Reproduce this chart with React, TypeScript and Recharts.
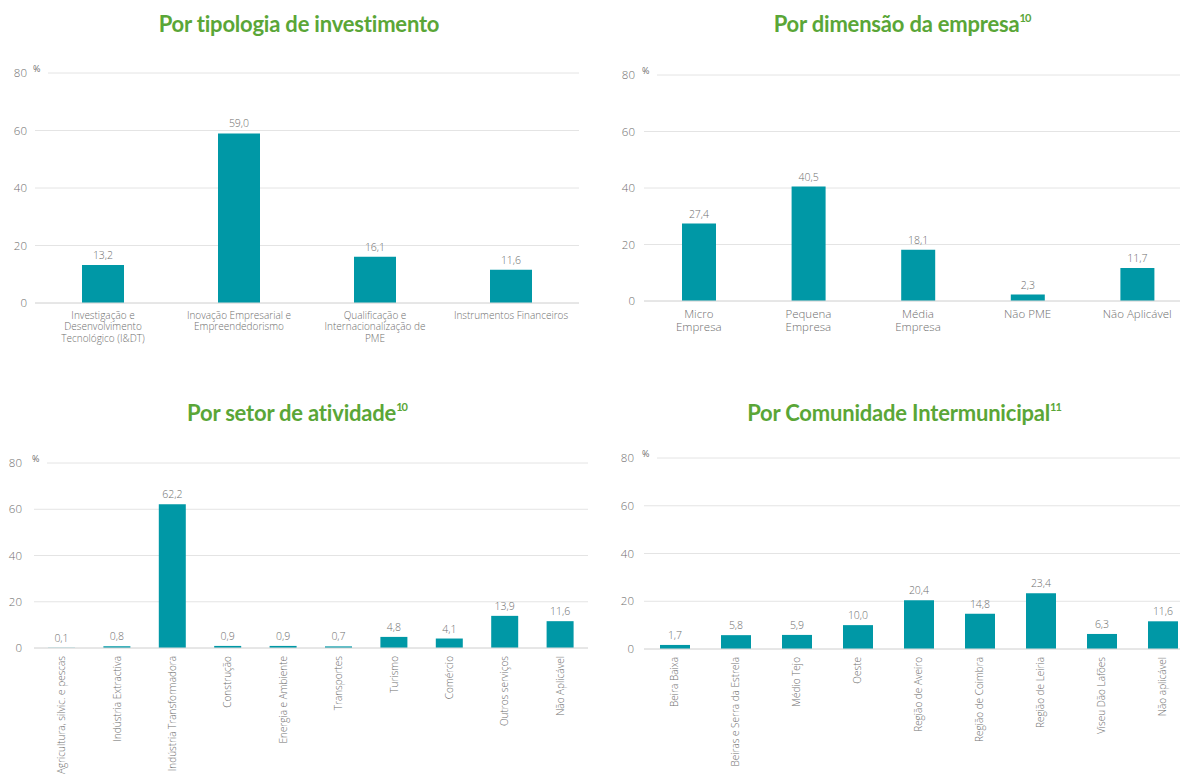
import React from "react";
import { Bar, BarChart, CartesianGrid, LabelList, XAxis, YAxis } from "recharts";

const yTicks = [0, 20, 40, 60, 80];

const tipologiaCats = [
  "Investigação e\nDesenvolvimento\nTecnológico (I&DT)",
  "Inovação Empresarial e\nEmpreendedorismo",
  "Qualificação e\nInternacionalização de\nPME",
  "Instrumentos Financeiros",
];
const tipologiaValues = [13.2, 59.0, 16.1, 11.6];

const dimensaoCats = ["Micro\nEmpresa", "Pequena\nEmpresa", "Média\nEmpresa", "Não PME", "Não Aplicável"];
const dimensaoValues = [27.4, 40.5, 18.1, 2.3, 11.7];

const setorCats = [
  "Agricultura, silvic. e pescas",
  "Indústria Extractiva",
  "Indústria Transformadora",
  "Construção",
  "Energia e Ambiente",
  "Transportes",
  "Turismo",
  "Comércio",
  "Outros serviços",
  "Não Aplicável",
];
const setorValues = [0.1, 0.8, 62.2, 0.9, 0.9, 0.7, 4.8, 4.1, 13.9, 11.6];

const cimCats = [
  "Beira Baixa",
  "Beiras e Serra da Estrela",
  "Médio Tejo",
  "Oeste",
  "Região de Aveiro",
  "Região de Coimbra",
  "Região de Leiria",
  "Viseu Dão Lafões",
  "Não aplicável",
];
const cimValues = [1.7, 5.8, 5.9, 10.0, 20.4, 14.8, 23.4, 6.3, 11.6];

const BAR = "#0098a6";
const GREY = "#6f6f6f";
const GREEN = "#5aa637";
const FONT = "'Open Sans', sans-serif";

const fmt = (v: any) => Number(v).toFixed(1).replace(".", ",");

function WrapTick(props: any) {
  const { x, y, payload, fontSize, lineH } = props;
  const lines = String(payload.value).split("\n");
  return (
    <g>
      {lines.map((l, i) => (
        <text
          key={i}
          x={x}
          y={y + fontSize * 0.75 + i * lineH}
          textAnchor="middle"
          fill={GREY}
          fontSize={fontSize}
          fontFamily={FONT}
          fontWeight={300}
        >
          {l}
        </text>
      ))}
    </g>
  );
}

function RotTick(props: any) {
  const { x, y, payload } = props;
  return (
    <text
      x={x}
      y={y}
      dy="0.35em"
      transform={`rotate(-90, ${x}, ${y})`}
      textAnchor="end"
      fill={GREY}
      fontSize={10}
      fontFamily={FONT}
      fontWeight={300}
    >
      {payload.value}
    </text>
  );
}

function ValueLabel(props: any) {
  const { x, y, width, value } = props;
  return (
    <text
      x={x + width / 2}
      y={y - 6}
      textAnchor="middle"
      fill={GREY}
      fontSize={10.5}
      fontFamily={FONT}
      fontWeight={300}
    >
      {fmt(value)}
    </text>
  );
}

interface PanelProps {
  left: number;
  top: number;
  width: number;
  plotTop: number;
  plotHeight: number;
  xHeight: number;
  yWidth: number;
  tickMargin: number;
  marginRight: number;
  cats: string[];
  values: number[];
  barSize: number;
  rotated?: boolean;
  xFont?: number;
  lineH?: number;
}

function Panel(p: PanelProps) {
  const data = p.cats.map((c, i) => ({ name: c, value: p.values[i] }));
  const height = p.plotTop + p.plotHeight + p.xHeight;
  const plotLeft = p.left + p.yWidth;
  return (
    <>
      <div style={{ position: "absolute", left: p.left, top: p.top }}>
        <BarChart
          width={p.width}
          height={height}
          data={data}
          margin={{ top: p.plotTop, right: p.marginRight, bottom: 0, left: 0 }}
        >
          <CartesianGrid vertical={false} stroke="#e4e4e4" />
          <XAxis
            dataKey="name"
            interval={0}
            height={p.xHeight}
            tickLine={false}
            axisLine={{ stroke: "#dcdcdc" }}
            tick={p.rotated ? <RotTick /> : <WrapTick fontSize={p.xFont} lineH={p.lineH} />}
          />
          <YAxis
            domain={[0, 80]}
            ticks={yTicks}
            width={p.yWidth}
            axisLine={false}
            tickLine={false}
            tickMargin={p.tickMargin}
            tick={{ fill: GREY, fontSize: 11.5, fontFamily: FONT, fontWeight: 300 }}
          />
          <Bar dataKey="value" fill={BAR} barSize={p.barSize} isAnimationActive={false}>
            <LabelList dataKey="value" content={<ValueLabel />} />
          </Bar>
        </BarChart>
      </div>
      <div
        style={{
          position: "absolute",
          left: plotLeft - 4,
          top: p.top + p.plotTop - 9,
          width: 15,
          height: 12,
          background: "#fff",
          color: GREY,
          fontSize: 9,
          fontFamily: FONT,
          lineHeight: "9px",
          paddingLeft: 2,
        }}
      >
        %
      </div>
    </>
  );
}

function Title({ text, sup, cx, top }: { text: string; sup?: string; cx: number; top: number }) {
  return (
    <div
      style={{
        position: "absolute",
        left: cx - 300,
        width: 600,
        top,
        textAlign: "center",
        color: GREEN,
        fontFamily: "Lato, sans-serif",
        fontWeight: 700,
        fontSize: 22,
        lineHeight: "24px",
        letterSpacing: -0.2,
      }}
    >
      {text}
      {sup && <sup style={{ fontSize: 11, verticalAlign: "top", lineHeight: "12px", letterSpacing: -1 }}>{sup}</sup>}
    </div>
  );
}

export default function App() {
  return (
    <div
      style={{
        position: "absolute",
        left: 0,
        top: 0,
        width: 1180,
        height: 774,
        overflow: "hidden",
        background: "#fff",
      }}
    >
      <Title text="Por tipologia de investimento" cx={299} top={12} />
      <Title text="Por dimensão da empresa" sup="10" cx={902} top={12} />
      <Title text="Por setor de atividade" sup="10" cx={297} top={401} />
      <Title text="Por Comunidade Intermunicipal" sup="11" cx={904} top={401} />

      <Panel
        left={0}
        top={0}
        width={600}
        plotTop={73}
        plotHeight={230}
        xHeight={60}
        yWidth={35}
        tickMargin={2}
        marginRight={21}
        cats={tipologiaCats}
        values={tipologiaValues}
        barSize={42}
        xFont={10}
        lineH={11.5}
      />
      <Panel
        left={609}
        top={0}
        width={583}
        plotTop={75}
        plotHeight={226}
        xHeight={60}
        yWidth={35}
        tickMargin={3}
        marginRight={0}
        cats={dimensaoCats}
        values={dimensaoValues}
        barSize={34}
        xFont={11.5}
        lineH={13}
      />
      <Panel
        left={0}
        top={390}
        width={588}
        plotTop={73}
        plotHeight={185}
        xHeight={126}
        yWidth={34}
        tickMargin={6}
        marginRight={0}
        cats={setorCats}
        values={setorValues}
        barSize={27}
        rotated
      />
      <Panel
        left={609}
        top={390}
        width={584}
        plotTop={68}
        plotHeight={191}
        xHeight={125}
        yWidth={35}
        tickMargin={4}
        marginRight={0}
        cats={cimCats}
        values={cimValues}
        barSize={30}
        rotated
      />
    </div>
  );
}
